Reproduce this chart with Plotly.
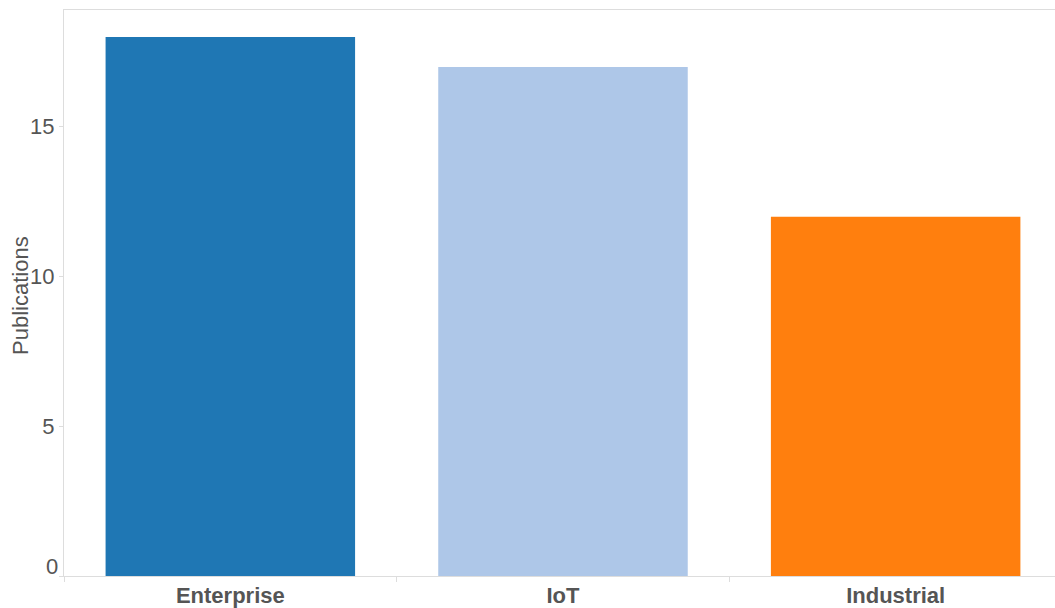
import plotly.graph_objects as go

# Publication counts per application domain
categories = ["Enterprise", "IoT", "Industrial"]
publications = [18, 17, 12]
bar_colors = ["#1f77b4", "#aec7e8", "#ff7f0e"]

y_tick_values = [0, 5, 10, 15]
y_tick_labels = ["", "5", "10", "15"]
y_title = "Publications"

FONT = "Liberation Sans, Arial, sans-serif"
AXIS_GRAY = "#dddddd"
TEXT_GRAY = "#555555"

fig = go.Figure(
    go.Bar(
        x=categories,
        y=publications,
        marker=dict(color=bar_colors, line=dict(width=0)),
        hoverinfo="x+y",
    )
)

fig.update_layout(
    width=1055,
    height=608,
    margin=dict(l=64, r=0, t=10, b=30),
    paper_bgcolor="white",
    plot_bgcolor="white",
    bargap=0.25,
    showlegend=False,
    font=dict(family=FONT, color=TEXT_GRAY),
)

fig.update_xaxes(
    type="category",
    range=[-0.5, 2.479],
    showline=True,
    linecolor=AXIS_GRAY,
    linewidth=1,
    mirror=True,
    showgrid=False,
    ticks="outside",
    tickson="boundaries",
    ticklen=5,
    tickcolor=AXIS_GRAY,
    tickfont=dict(family=FONT, size=22, color=TEXT_GRAY, weight="bold"),
    fixedrange=True,
)

fig.update_yaxes(
    range=[0, 18.9],
    tickvals=y_tick_values,
    ticktext=y_tick_labels,
    showline=True,
    linecolor=AXIS_GRAY,
    linewidth=1,
    showgrid=False,
    zeroline=False,
    ticks="outside",
    ticklen=4,
    tickcolor=AXIS_GRAY,
    tickfont=dict(family=FONT, size=22, color=TEXT_GRAY),
)

# Vertical axis title
fig.add_annotation(
    x=0, xref="paper",
    y=0.5, yref="paper",
    text=y_title,
    textangle=-90,
    showarrow=False,
    xanchor="center", yanchor="middle",
    xshift=-44, yshift=-3,
    font=dict(family=FONT, size=22, color=TEXT_GRAY),
)

# The zero label sits flush above the axis baseline
fig.add_annotation(
    x=0, xref="paper",
    y=0, yref="y",
    text=str(y_tick_values[0]),
    showarrow=False,
    xanchor="right", yanchor="bottom",
    xshift=-4, yshift=-5,
    font=dict(family=FONT, size=22, color=TEXT_GRAY),
)

fig.write_html("out.html")
